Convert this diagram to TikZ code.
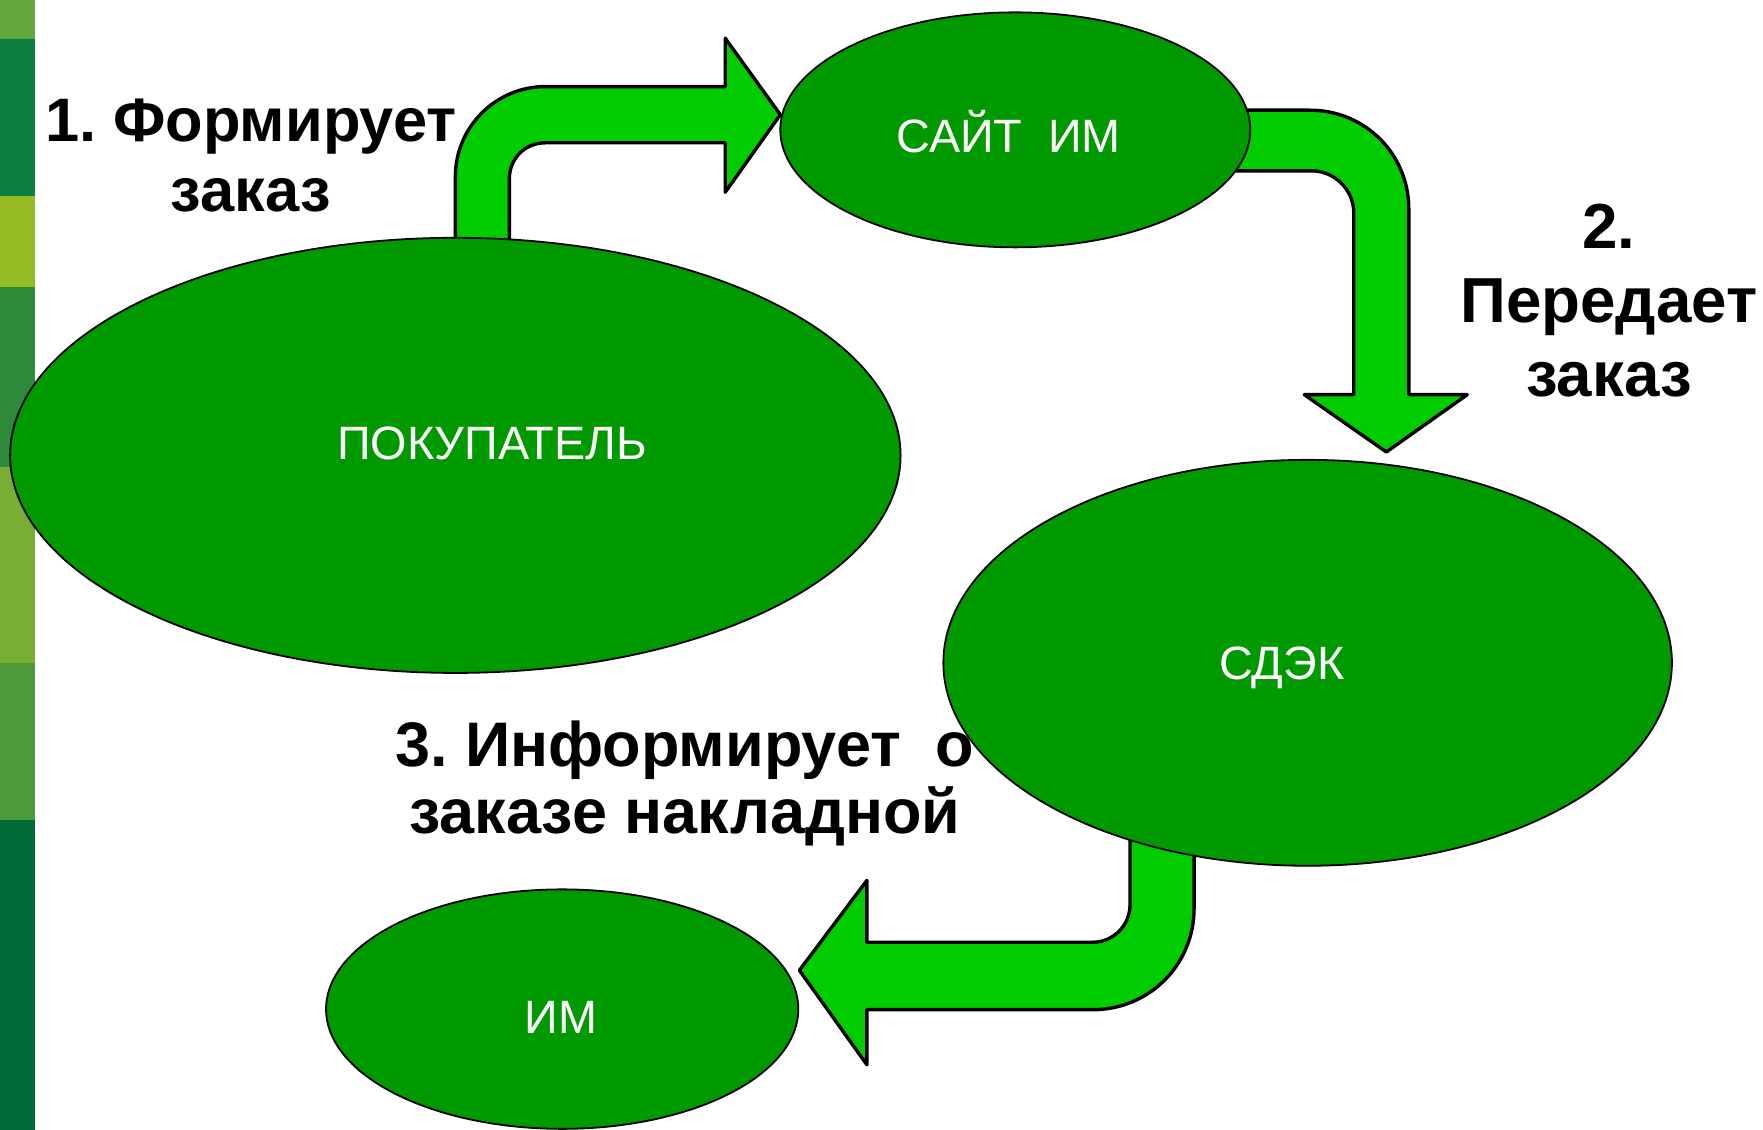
\documentclass[tikz,border=0pt]{standalone}
\usepackage{fontspec}
\setmainfont{Liberation Sans}
\usetikzlibrary{shapes.geometric, positioning}
\frenchspacing

\definecolor{ovalgreen}{HTML}{009900}
\definecolor{arrowgreen}{HTML}{00CC00}
\definecolor{stripeA}{HTML}{62A83B}
\definecolor{stripeB}{HTML}{0B7F3E}
\definecolor{stripeC}{HTML}{95BB25}
\definecolor{stripeD}{HTML}{2C8A3A}
\definecolor{stripeE}{HTML}{76AF31}
\definecolor{stripeF}{HTML}{4B9B3B}
\definecolor{stripeG}{HTML}{006B36}

\begin{document}
\begin{tikzpicture}[x=0.5pt, y=-0.5pt,
    oval/.style={ellipse, draw=black, line width=0.8pt, fill=ovalgreen, inner sep=0pt},
    ovaltext/.style={text=white, font=\fontsize{20.8}{25}\selectfont, anchor=base, inner sep=0pt},
    steptext/.style 2 args={font=\bfseries\fontsize{#1}{#2}\selectfont, align=center, anchor=base, inner sep=0pt},
    bigarrow/.style={draw=black, line width=1.5pt, fill=arrowgreen, line join=round}]

    \useasboundingbox (0,0) rectangle (1568,1005);

    % Side stripe:
    \foreach \ya/\yb/\col in {0/35/stripeA, 35/174/stripeB, 174/255/stripeC, 255/415/stripeD,
                              415/590/stripeE, 590/729/stripeF, 729/1005/stripeG}
        \fill[\col] (0,\ya) rectangle (31,\yb);

    % Step labels (placed at the baseline of their last line):
    \node[steptext={27.3pt}{31pt}] (step1) at (223,188) {1. Формирует\\заказ};
    \node[steptext={28.3pt}{33pt}] (step2) at (1431,353) {2.\\Передает\\заказ};
    \node[steptext={28pt}{29.5pt}] (step3) at (609,741) {3. Информирует~ о\\заказе накладной};

    % Block arrows:
    \draw[bigarrow] (405,235) -- (405,157) .. controls (405,113) and (441,77) .. (485,77)
        -- (645,77) -- (645,34) -- (694,102) -- (645,171) -- (645,127) -- (485,127)
        .. controls (467,127) and (453,141) .. (453,159) -- (453,235) -- cycle;
    \draw[bigarrow] (1080,98) -- (1165,98) .. controls (1214,98) and (1253,137) .. (1253,186)
        -- (1253,351) -- (1305,351) -- (1233,402) -- (1160,351) -- (1204,351) -- (1204,189)
        .. controls (1204,169) and (1187,152) .. (1167,152) -- (1080,152) -- cycle;
    \draw[bigarrow] (1005,730) -- (1005,805) .. controls (1005,823) and (990,838) .. (972,838)
        -- (771,838) -- (771,783) -- (711,863) -- (771,947) -- (771,898) -- (972,898)
        .. controls (1022,898) and (1062,858) .. (1062,808) -- (1062,730) -- cycle;

    % Ovals:
    \node[oval, minimum width=396pt, minimum height=193.5pt] (buyer) at (405,405) {};
    \node[oval, minimum width=209pt, minimum height=104.5pt] (site) at (903,115.5) {};
    \node[oval, minimum width=324pt, minimum height=180.5pt] (cdek) at (1163,589.5) {};
    \node[oval, minimum width=210pt, minimum height=106.5pt] (shop) at (500,897.5) {};

    \node[ovaltext] (buyertext) at ([shift={(32.5,4)}]buyer.center) {ПОКУПАТЕЛЬ};
    \node[ovaltext] (sitetext) at ([shift={(-6,20.5)}]site.center) {САЙТ~ ИМ};
    \node[ovaltext] (cdektext) at ([shift={(-23,14.5)}]cdek.center) {СДЭК};
    \node[ovaltext] (shoptext) at ([shift={(-1,21.5)}]shop.center) {ИМ};
\end{tikzpicture}
\end{document}
